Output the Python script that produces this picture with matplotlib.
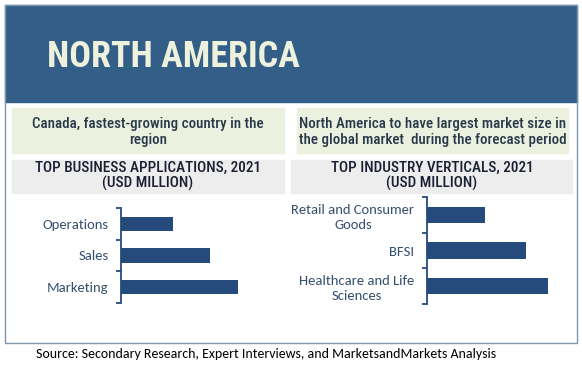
import matplotlib.pyplot as plt
from matplotlib.patches import Rectangle

W, H = 582, 366

# data
apps = ['Operations', 'Sales', 'Marketing']
apps_values = [52, 89, 117]
verticals = ['Retail and Consumer\nGoods', 'BFSI', 'Healthcare and Life\nSciences']
verticals_values = [58, 99, 121]

navy = '#254B7C'
label_col = '#34506E'
narrow = ['Roboto Condensed', 'Archivo Narrow', 'Liberation Sans Narrow', 'DejaVu Sans']
body = ['Carlito', 'Lato', 'DejaVu Sans']


def fbox(x0, y0, x1, y1):
    # pixel box (top-left origin) -> figure fractions
    return [x0 / W, 1 - y1 / H, (x1 - x0) / W, (y1 - y0) / H]


fig = plt.figure(figsize=(W / 100, H / 100), dpi=100)
bg = fig.add_axes([0, 0, 1, 1])
bg.set_xlim(0, W)
bg.set_ylim(H, 0)
bg.axis('off')

# header and frame
bg.add_patch(Rectangle((5, 5), 572, 97, color='#325E88', zorder=1))
bg.add_patch(Rectangle((5, 5), 572, 338, fill=False, ec='#7F95AC', lw=1, zorder=2))
bg.text(47, 57, 'NORTH AMERICA', fontsize=26, fontweight='bold', color='#EEF2DC',
        family=narrow, va='center', ha='left')

# info boxes
bg.add_patch(Rectangle((12, 108), 272, 45, color='#EBF1DE', zorder=1))
bg.add_patch(Rectangle((297, 108), 271, 45, color='#EBF1DE', zorder=1))
bg.add_patch(Rectangle((12, 160), 272, 33, color='#EDEDED', zorder=1))
bg.add_patch(Rectangle((291, 160), 281, 33, color='#EDEDED', zorder=1))

bg.text(148, 132, 'Canada, fastest-growing country in the\nregion', fontsize=10.8, fontweight='medium',
        color='#27394A', family=narrow, ha='center', va='center', linespacing=1.25)
bg.text(433, 132, 'North America to have largest market size in\nthe global market  during the forecast period',
        fontsize=10.8, fontweight='medium', color='#27394A', family=narrow, ha='center', va='center',
        linespacing=1.25)
bg.text(148, 176, 'TOP BUSINESS APPLICATIONS, 2021\n(USD MILLION)', fontsize=11, fontweight='medium',
        color='#1B1F33', family=narrow, ha='center', va='center', linespacing=1.1)
bg.text(432, 176, 'TOP INDUSTRY VERTICALS, 2021\n(USD MILLION)', fontsize=11, fontweight='medium',
        color='#1B1F33', family=narrow, ha='center', va='center', linespacing=1.1)

bg.text(266, 354, 'Source: Secondary Research, Expert Interviews, and MarketsandMarkets Analysis',
        fontsize=10, color='black', family=body, ha='center', va='center')


def bar_panel(box, cats, vals):
    ax = fig.add_axes(fbox(*box))
    ax.patch.set_alpha(0)
    pos = range(len(cats))
    ax.barh(pos, vals, height=0.45, color=navy)
    ax.set_xlim(0, box[2] - box[0])
    ax.set_ylim(len(cats) - 0.5, -0.5)
    for s in ['top', 'right', 'bottom']:
        ax.spines[s].set_visible(False)
    ax.spines['left'].set_color(navy)
    ax.spines['left'].set_linewidth(1.3)
    ax.set_xticks([])
    ax.set_yticks(list(pos))
    ax.set_yticklabels(cats, fontsize=10.5, color=label_col, family=body,
                       multialignment='center', linespacing=1.3)
    ax.tick_params(axis='y', which='major', length=0, pad=9)
    ax.set_yticks([p - 0.5 for p in range(len(cats) + 1)], minor=True)
    ax.tick_params(axis='y', which='minor', length=3.5, width=1.3, color=navy, direction='out')
    return ax


bar_panel((121, 208, 271, 303), apps, apps_values)
bar_panel((427, 197, 577, 304), verticals, verticals_values)

fig.savefig('out.png', dpi=100)
